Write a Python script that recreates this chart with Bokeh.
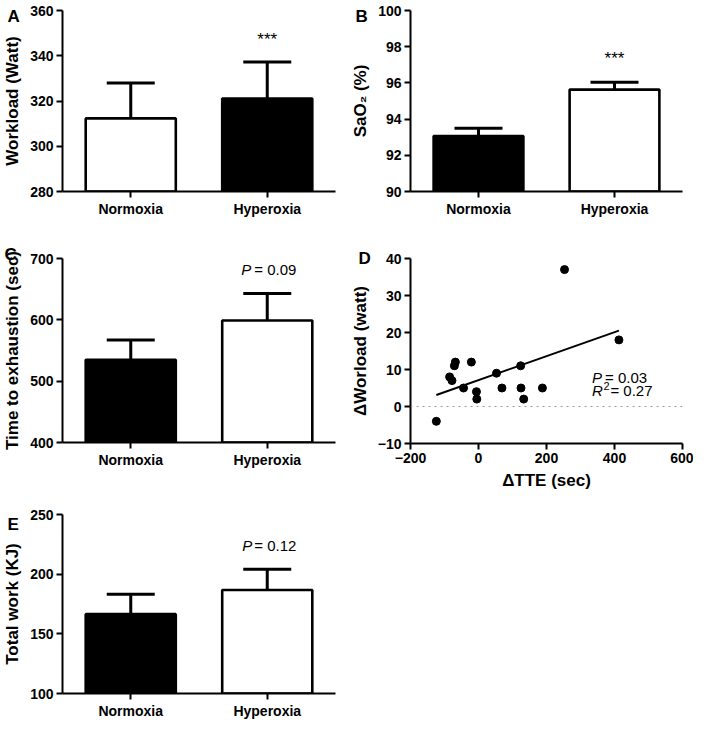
from bokeh.plotting import figure
from bokeh.layouts import column, row
from bokeh.models import (Range1d, FactorRange, Whisker, TeeHead, ColumnDataSource,
                          Label, Span, FixedTicker)
from bokeh.embed import file_html
from bokeh.resources import INLINE
import numpy as np

# ---------------- data ----------------
groups = ["Normoxia", "Hyperoxia"]

workload_mean = [312.3, 321.1]
workload_err = [15.7, 16.1]
workload_colors = ["white", "black"]

sao2_mean = [93.06, 95.63]
sao2_err = [0.44, 0.41]
sao2_colors = ["black", "white"]

tte_mean = [535, 599]
tte_err = [32, 44]
tte_colors = ["black", "white"]

work_mean = [166.5, 186.7]
work_err = [16.7, 17.5]
work_colors = ["black", "white"]

delta_tte = [-124, -85, -78, -71, -68, -44, -21, -6, -5, 53, 69, 124, 125, 133, 188, 253, 413]
delta_work = [-4, 8, 7, 11, 12, 5, 12, 4, 2, 9, 5, 11, 5, 2, 5, 37, 18]

FONT = "Liberation Sans"


def style(p):
    for ax in p.axis:
        ax.axis_line_width = 2
        ax.axis_line_color = "black"
        ax.major_tick_line_width = 2
        ax.major_tick_line_color = "black"
        ax.major_tick_out = 6
        ax.major_tick_in = 0
        ax.minor_tick_line_color = None
        ax.major_label_text_font = FONT
        ax.major_label_text_font_style = "bold"
        ax.major_label_text_font_size = "14px"
        ax.major_label_text_color = "black"
        ax.major_label_standoff = 3
        ax.axis_label_text_font = FONT
        ax.axis_label_text_font_style = "bold"
        ax.axis_label_text_font_size = "17px"
        ax.axis_label_text_color = "black"
        ax.axis_label_standoff = 5
    p.xgrid.visible = False
    p.ygrid.visible = False
    p.outline_line_color = None
    p.background_fill_color = "white"
    p.border_fill_color = "white"


def letter(p, txt, offset, standoff):
    t = p.title
    t.text = txt
    t.align = "left"
    t.offset = offset
    t.standoff = standoff
    t.vertical_align = "bottom"
    t.text_font = FONT
    t.text_font_style = "bold"
    t.text_font_size = "17px"
    t.text_color = "black"


def bar_panel(means, errs, colors, ymin, ymax, ticks, ylabel, width, height,
              bl, br, bt, bb):
    p = figure(x_range=FactorRange(*groups, range_padding=0), y_range=Range1d(ymin, ymax),
               width=width, height=height, output_backend="svg", toolbar_location=None,
               min_border_left=bl, min_border_right=br, min_border_top=bt, min_border_bottom=bb)
    src = ColumnDataSource(dict(x=groups, top=means, color=colors,
                                upper=[m + e for m, e in zip(means, errs)]))
    p.vbar(x="x", top="top", bottom=ymin, width=0.66, source=src, fill_color="color",
           line_color="black", line_width=2.6)
    p.add_layout(Whisker(source=src, base="x", lower="top", upper="upper", dimension="height",
                         line_width=3, line_color="black", lower_head=None,
                         upper_head=TeeHead(size=48, line_width=3, line_color="black"),
                         level="overlay"))
    p.yaxis.ticker = FixedTicker(ticks=ticks)
    p.yaxis.axis_label = ylabel
    style(p)
    return p


def txt(p, x, y, text, size="15px", style_="normal", align="left", x_offset=0):
    p.add_layout(Label(x=x, y=y, text=text, text_font=FONT, text_font_style=style_,
                       text_font_size=size, text_align=align, text_baseline="alphabetic",
                       x_offset=x_offset, text_color="black"))


# Panel A
pA = bar_panel(workload_mean, workload_err, workload_colors, 280, 360,
               [280, 300, 320, 340, 360], "Workload (Watt)", 347, 235, 57, 12, 10, 44)
txt(pA, 1.5, 347, "***", size="17px", align="center")
letter(pA, "A", -55, -30)

# Panel B
pB = bar_panel(sao2_mean, sao2_err, sao2_colors, 90, 100,
               [90, 92, 94, 96, 98, 100], "SaO₂ (%)", 346, 235, 57, 11, 10, 44)
txt(pB, 1.5, 97.35, "***", size="17px", align="center")
letter(pB, "B", -55, -30)

# Panel C
pC = bar_panel(tte_mean, tte_err, tte_colors, 400, 700,
               [400, 500, 600, 700], "Time to exhaustion (sec)", 347, 244, 57, 12, 23, 37)
txt(pC, 1.5, 682, "P", style_="italic", align="right", x_offset=-16)
txt(pC, 1.5, 682, "= 0.09", x_offset=-13)
letter(pC, "C", -58, -10)

# Panel E
pE = bar_panel(work_mean, work_err, work_colors, 100, 250,
               [100, 150, 200, 250], "Total work (KJ)", 347, 242, 57, 12, 35, 24)
txt(pE, 1.5, 224, "P", style_="italic", align="right", x_offset=-15)
txt(pE, 1.5, 224, "= 0.12", x_offset=-13)
letter(pE, "E", -55, -38)

# Panel D
pD = figure(x_range=Range1d(-200, 600), y_range=Range1d(-10, 40), width=346, height=260,
            output_backend="svg", toolbar_location=None,
            min_border_left=59, min_border_right=11, min_border_top=23, min_border_bottom=52)
pD.add_layout(Span(location=0, dimension="width", line_color="#999999", line_width=1,
                   line_dash="dotted"))
slope, intercept = np.polyfit(delta_tte, delta_work, 1)
xfit = np.array([min(delta_tte), max(delta_tte)])
pD.line(xfit, slope * xfit + intercept, line_color="black", line_width=2)
pD.scatter(delta_tte, delta_work, size=8, marker="circle", fill_color="black", line_color="black")
pD.xaxis.ticker = FixedTicker(ticks=[-200, 0, 200, 400, 600])
pD.yaxis.ticker = FixedTicker(ticks=[-10, 0, 10, 20, 30, 40])
pD.xaxis.major_label_overrides = {-200: "−200"}
pD.yaxis.major_label_overrides = {-10: "−10"}
pD.xaxis.axis_label = "ΔTTE (sec)"
pD.yaxis.axis_label = "ΔWorload (watt)"
style(pD)
txt(pD, 334, 7.9, "P", style_="italic")
txt(pD, 372, 7.9, "= 0.03")
txt(pD, 334, 4.35, "R", style_="italic")
txt(pD, 368, 5.5, "2", size="11px")
txt(pD, 388, 4.35, "= 0.27")
letter(pD, "D", -52, -18)

layout = row(column(pA, pC, pE), column(pB, pD))

open("out.html", "w").write(file_html(layout, INLINE))
